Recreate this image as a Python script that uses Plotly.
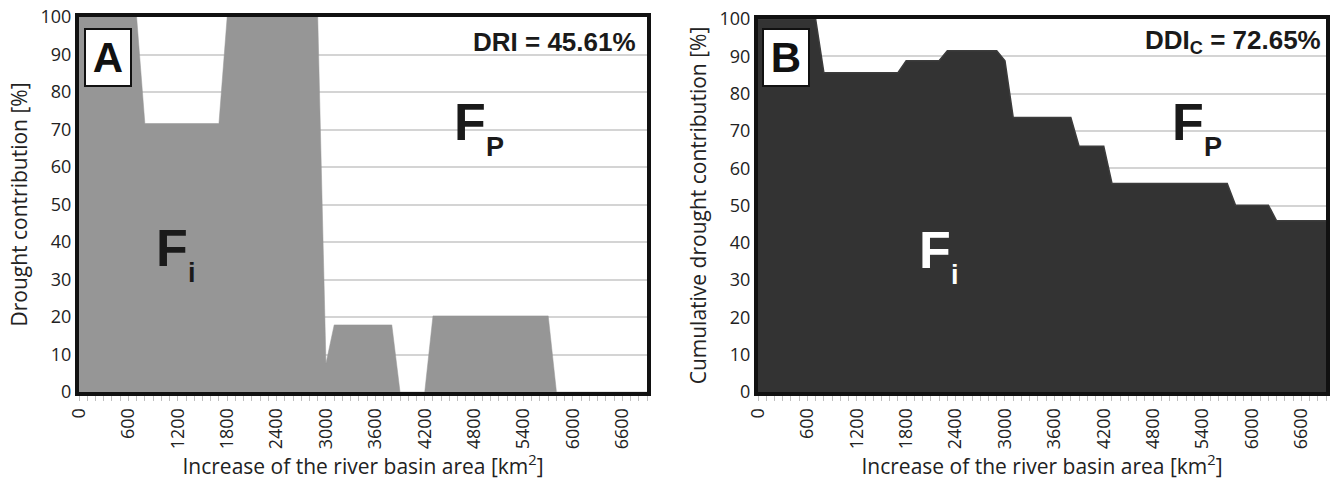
import plotly.graph_objects as go

# Category positions (km2), one every 100
area_km2 = list(range(0, 7000, 100))

# Panel A: drought contribution [%] per category
drought_contribution = (
    [100.0] * 8 +          # 0 - 700
    [71.6] * 10 +          # 800 - 1700
    [100.0] * 12 +         # 1800 - 2900
    [7.6] +                # 3000
    [17.9] * 8 +           # 3100 - 3800
    [0.0] * 4 +            # 3900 - 4200
    [20.3] * 15 +          # 4300 - 5700
    [0.0] * 12             # 5800 - 6900
)

# Panel B: cumulative drought contribution [%]
cumulative_contribution = (
    [100.0] * 8 +          # 0 - 700
    [85.6] * 10 +          # 800 - 1700
    [88.8] * 5 +           # 1800 - 2200
    [91.5] * 7 +           # 2300 - 2900
    [88.8] +               # 3000
    [73.6] * 8 +           # 3100 - 3800
    [65.9] * 4 +           # 3900 - 4200
    [55.9] * 15 +          # 4300 - 5700
    [50.1] * 5 +           # 5800 - 6200
    [45.9] * 7             # 6300 - 6900
)

x_tickvals = list(range(0, 7000, 600))
y_tickvals = list(range(0, 101, 10))

W, H = 1338, 489
def px_x(p): return p / W
def px_y(p): return 1 - p / H

fig = go.Figure()
fig.add_trace(go.Scatter(x=area_km2, y=drought_contribution, mode="lines",
                         fill="tozeroy", fillcolor="#969696",
                         line=dict(color="#969696", width=0.5),
                         xaxis="x", yaxis="y", showlegend=False, hoverinfo="skip"))
fig.add_trace(go.Scatter(x=area_km2, y=cumulative_contribution, mode="lines",
                         fill="tozeroy", fillcolor="#333333",
                         line=dict(color="#3c3c3c", width=1.5),
                         xaxis="x2", yaxis="y2", showlegend=False, hoverinfo="skip"))

tick_font = dict(family="Open Sans", size=18, color="#222222")
title_font = dict(family="Open Sans", size=21, color="#222222")

def xaxis(domain, anchor):
    return dict(domain=domain, anchor=anchor, range=[0, 6900], automargin=False,
                tickmode="array", tickvals=x_tickvals, tickangle=-90,
                tickfont=tick_font, ticks="outside", ticklen=5, tickcolor="#c0c0c0",
                minor=dict(dtick=100, tick0=0, ticks="outside", ticklen=5, tickcolor="#c0c0c0"),
                showgrid=False, zeroline=False,
                showline=True, linewidth=4, linecolor="#111111", mirror=True,
                title=dict(text="Increase of the river basin area [km<sup>2</sup>]",
                           font=title_font, standoff=12))

def yaxis(domain, anchor, title):
    return dict(domain=domain, anchor=anchor, range=[0, 100], automargin=False,
                tickmode="array", tickvals=y_tickvals, tickfont=tick_font,
                showgrid=True, gridcolor="#d4d4d4", gridwidth=1.5,
                zeroline=False, ticks="",
                showline=True, linewidth=4, linecolor="#111111", mirror=True,
                title=dict(text=title, font=title_font, standoff=8))

fig.update_layout(
    width=W, height=H, margin=dict(l=0, r=0, t=0, b=0),
    paper_bgcolor="white", plot_bgcolor="white",
    xaxis=xaxis([px_x(79), px_x(647)], "y"),
    yaxis=yaxis([px_y(392), px_y(17)], "x", "Drought contribution [%]"),
    xaxis2=xaxis([px_x(758), px_x(1326)], "y2"),
    yaxis2=yaxis([px_y(392), px_y(19)], "x2", "Cumulative drought contribution [%]"),
)

bold = "Liberation Sans"
ann = []
def label_box(xc, yc, text):
    ann.append(dict(xref="paper", yref="paper", x=px_x(xc), y=px_y(yc),
                    text="<b>%s</b>" % text, showarrow=False,
                    font=dict(family=bold, size=42, color="#111111"),
                    bgcolor="white", bordercolor="#111111", borderwidth=2,
                    width=42, height=53, xanchor="center", yanchor="middle"))

label_box(108, 57, "A")
label_box(786, 57, "B")

ann.append(dict(xref="paper", yref="paper", x=px_x(638), y=px_y(42),
                text="<b>DRI = 45.61%</b>", showarrow=False, xanchor="right", yanchor="middle",
                font=dict(family=bold, size=26, color="#1a1a1a")))
ann.append(dict(xref="paper", yref="paper", x=px_x(1323), y=px_y(42),
                text="<b>DDI<sub>C</sub> = 72.65%</b>", showarrow=False, xanchor="right", yanchor="middle",
                font=dict(family=bold, size=26, color="#1a1a1a")))

def f_label(xf, yf, sub, color):
    ann.append(dict(xref="paper", yref="paper", x=px_x(xf), y=px_y(yf),
                    text="<b>F</b>", showarrow=False, xanchor="left", yanchor="middle",
                    font=dict(family=bold, size=52, color=color)))
    ann.append(dict(xref="paper", yref="paper", x=px_x(xf + 32), y=px_y(yf + 25),
                    text="<b>%s</b>" % sub, showarrow=False, xanchor="left", yanchor="middle",
                    font=dict(family=bold, size=27, color=color)))

f_label(452, 122, "P", "#1a1a1a")
f_label(154, 248, "i", "#1a1a1a")
f_label(1170, 122, "P", "#1a1a1a")
f_label(917, 250, "i", "white")

fig.update_layout(annotations=ann)
fig.write_html("out.html")
